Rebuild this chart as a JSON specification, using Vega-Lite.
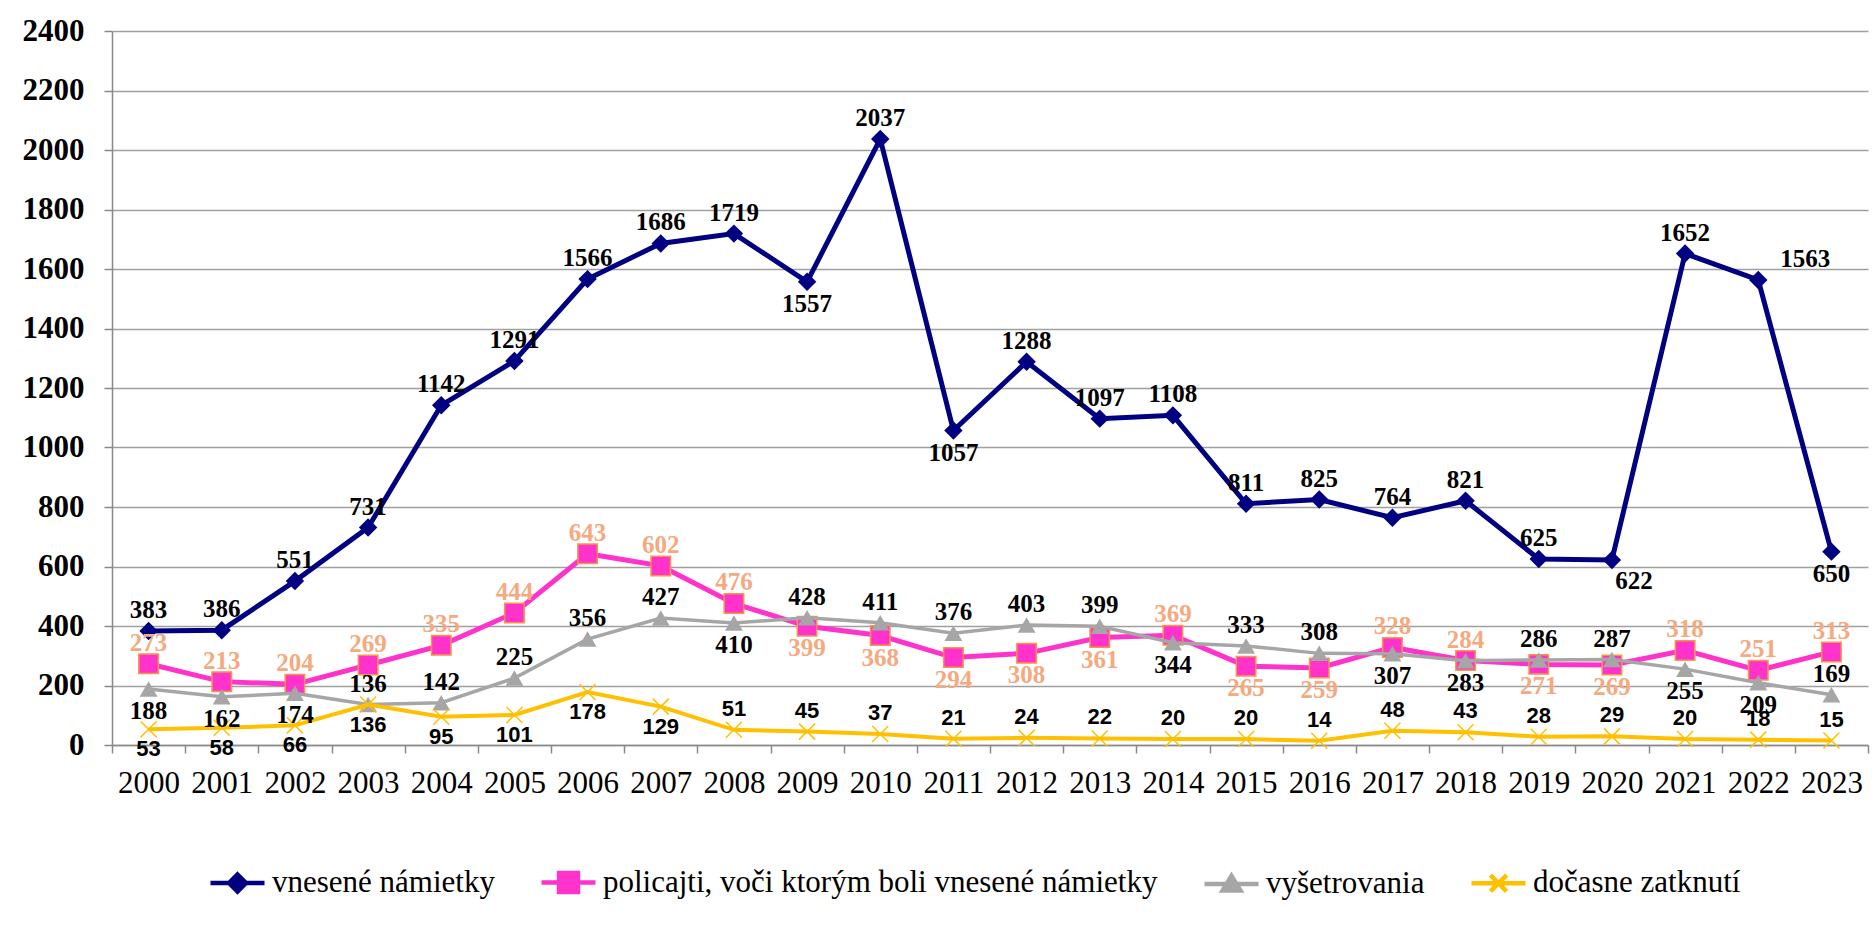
{
  "$schema": "https://vega.github.io/schema/vega-lite/v6.json",
  "width": 1756,
  "height": 714,
  "autosize": {"type": "none"},
  "padding": {"left": 112, "top": 31, "right": 8, "bottom": 184},
  "background": "white",
  "config": {"view": {"stroke": null}},
  "title": {
    "text": "Graf 1: Súhrn vybraných údajov o kriminalite príslušníkov polície v rokoch 2000 – 2023",
    "anchor": "start", "frame": "group", "dx": -112, "offset": 8, "baseline": "alphabetic",
    "font": "Liberation Serif", "fontSize": 22, "fontWeight": "bold", "color": "black"
  },
  "data": {"values": [
    {"year":"2000","series":"vnesené námietky","value":383},
    {"year":"2001","series":"vnesené námietky","value":386},
    {"year":"2002","series":"vnesené námietky","value":551},
    {"year":"2003","series":"vnesené námietky","value":731},
    {"year":"2004","series":"vnesené námietky","value":1142},
    {"year":"2005","series":"vnesené námietky","value":1291},
    {"year":"2006","series":"vnesené námietky","value":1566},
    {"year":"2007","series":"vnesené námietky","value":1686},
    {"year":"2008","series":"vnesené námietky","value":1719},
    {"year":"2009","series":"vnesené námietky","value":1557},
    {"year":"2010","series":"vnesené námietky","value":2037},
    {"year":"2011","series":"vnesené námietky","value":1057},
    {"year":"2012","series":"vnesené námietky","value":1288},
    {"year":"2013","series":"vnesené námietky","value":1097},
    {"year":"2014","series":"vnesené námietky","value":1108},
    {"year":"2015","series":"vnesené námietky","value":811},
    {"year":"2016","series":"vnesené námietky","value":825},
    {"year":"2017","series":"vnesené námietky","value":764},
    {"year":"2018","series":"vnesené námietky","value":821},
    {"year":"2019","series":"vnesené námietky","value":625},
    {"year":"2020","series":"vnesené námietky","value":622},
    {"year":"2021","series":"vnesené námietky","value":1652},
    {"year":"2022","series":"vnesené námietky","value":1563},
    {"year":"2023","series":"vnesené námietky","value":650},
    {"year":"2000","series":"policajti, voči ktorým boli vnesené námietky","value":273},
    {"year":"2001","series":"policajti, voči ktorým boli vnesené námietky","value":213},
    {"year":"2002","series":"policajti, voči ktorým boli vnesené námietky","value":204},
    {"year":"2003","series":"policajti, voči ktorým boli vnesené námietky","value":269},
    {"year":"2004","series":"policajti, voči ktorým boli vnesené námietky","value":335},
    {"year":"2005","series":"policajti, voči ktorým boli vnesené námietky","value":444},
    {"year":"2006","series":"policajti, voči ktorým boli vnesené námietky","value":643},
    {"year":"2007","series":"policajti, voči ktorým boli vnesené námietky","value":602},
    {"year":"2008","series":"policajti, voči ktorým boli vnesené námietky","value":476},
    {"year":"2009","series":"policajti, voči ktorým boli vnesené námietky","value":399},
    {"year":"2010","series":"policajti, voči ktorým boli vnesené námietky","value":368},
    {"year":"2011","series":"policajti, voči ktorým boli vnesené námietky","value":294},
    {"year":"2012","series":"policajti, voči ktorým boli vnesené námietky","value":308},
    {"year":"2013","series":"policajti, voči ktorým boli vnesené námietky","value":361},
    {"year":"2014","series":"policajti, voči ktorým boli vnesené námietky","value":369},
    {"year":"2015","series":"policajti, voči ktorým boli vnesené námietky","value":265},
    {"year":"2016","series":"policajti, voči ktorým boli vnesené námietky","value":259},
    {"year":"2017","series":"policajti, voči ktorým boli vnesené námietky","value":328},
    {"year":"2018","series":"policajti, voči ktorým boli vnesené námietky","value":284},
    {"year":"2019","series":"policajti, voči ktorým boli vnesené námietky","value":271},
    {"year":"2020","series":"policajti, voči ktorým boli vnesené námietky","value":269},
    {"year":"2021","series":"policajti, voči ktorým boli vnesené námietky","value":318},
    {"year":"2022","series":"policajti, voči ktorým boli vnesené námietky","value":251},
    {"year":"2023","series":"policajti, voči ktorým boli vnesené námietky","value":313},
    {"year":"2000","series":"vyšetrovania","value":188},
    {"year":"2001","series":"vyšetrovania","value":162},
    {"year":"2002","series":"vyšetrovania","value":174},
    {"year":"2003","series":"vyšetrovania","value":136},
    {"year":"2004","series":"vyšetrovania","value":142},
    {"year":"2005","series":"vyšetrovania","value":225},
    {"year":"2006","series":"vyšetrovania","value":356},
    {"year":"2007","series":"vyšetrovania","value":427},
    {"year":"2008","series":"vyšetrovania","value":410},
    {"year":"2009","series":"vyšetrovania","value":428},
    {"year":"2010","series":"vyšetrovania","value":411},
    {"year":"2011","series":"vyšetrovania","value":376},
    {"year":"2012","series":"vyšetrovania","value":403},
    {"year":"2013","series":"vyšetrovania","value":399},
    {"year":"2014","series":"vyšetrovania","value":344},
    {"year":"2015","series":"vyšetrovania","value":333},
    {"year":"2016","series":"vyšetrovania","value":308},
    {"year":"2017","series":"vyšetrovania","value":307},
    {"year":"2018","series":"vyšetrovania","value":283},
    {"year":"2019","series":"vyšetrovania","value":286},
    {"year":"2020","series":"vyšetrovania","value":287},
    {"year":"2021","series":"vyšetrovania","value":255},
    {"year":"2022","series":"vyšetrovania","value":209},
    {"year":"2023","series":"vyšetrovania","value":169},
    {"year":"2000","series":"dočasne zatknutí","value":53},
    {"year":"2001","series":"dočasne zatknutí","value":58},
    {"year":"2002","series":"dočasne zatknutí","value":66},
    {"year":"2003","series":"dočasne zatknutí","value":136},
    {"year":"2004","series":"dočasne zatknutí","value":95},
    {"year":"2005","series":"dočasne zatknutí","value":101},
    {"year":"2006","series":"dočasne zatknutí","value":178},
    {"year":"2007","series":"dočasne zatknutí","value":129},
    {"year":"2008","series":"dočasne zatknutí","value":51},
    {"year":"2009","series":"dočasne zatknutí","value":45},
    {"year":"2010","series":"dočasne zatknutí","value":37},
    {"year":"2011","series":"dočasne zatknutí","value":21},
    {"year":"2012","series":"dočasne zatknutí","value":24},
    {"year":"2013","series":"dočasne zatknutí","value":22},
    {"year":"2014","series":"dočasne zatknutí","value":20},
    {"year":"2015","series":"dočasne zatknutí","value":20},
    {"year":"2016","series":"dočasne zatknutí","value":14},
    {"year":"2017","series":"dočasne zatknutí","value":48},
    {"year":"2018","series":"dočasne zatknutí","value":43},
    {"year":"2019","series":"dočasne zatknutí","value":28},
    {"year":"2020","series":"dočasne zatknutí","value":29},
    {"year":"2021","series":"dočasne zatknutí","value":20},
    {"year":"2022","series":"dočasne zatknutí","value":18},
    {"year":"2023","series":"dočasne zatknutí","value":15}
  ]},
  "encoding": {
    "x": {
      "field": "year", "type": "ordinal",
      "scale": {"type": "band", "paddingInner": 0, "paddingOuter": 0},
      "axis": {
        "title": null, "tickBand": "extent", "labelAngle": 0,
        "labelFont": "Liberation Serif", "labelFontSize": 31, "labelFontWeight": "normal", "labelColor": "black",
        "labelPadding": 15, "tickSize": 8, "tickColor": "#898989", "tickWidth": 1.5,
        "domainColor": "#898989", "domainWidth": 1.5, "grid": false
      }
    },
    "y": {
      "field": "value", "type": "quantitative",
      "scale": {"domain": [0, 2400], "nice": false},
      "axis": {
        "title": null, "values": [0,200,400,600,800,1000,1200,1400,1600,1800,2000,2200,2400], "format": "d",
        "labelFont": "Liberation Serif", "labelFontSize": 31, "labelFontWeight": "bold", "labelColor": "black",
        "labelPadding": 20, "tickSize": 8, "tickColor": "#898989", "tickWidth": 1.5,
        "domainColor": "#898989", "domainWidth": 1.5,
        "grid": true, "gridColor": "#A0A0A0", "gridWidth": 1.5
      }
    }
  },
  "layer": [
    {"transform": [{"filter": {"field": "series", "equal": "vnesené námietky"}}],
     "mark": {"type": "line", "color": "#000080", "strokeWidth": 5}},
    {"transform": [{"filter": {"field": "series", "equal": "vnesené námietky"}}],
     "mark": {"type": "point", "shape": "diamond", "filled": true, "color": "#000080", "size": 340, "opacity": 1}},
    {"transform": [{"filter": {"field": "series", "equal": "policajti, voči ktorým boli vnesené námietky"}}],
     "mark": {"type": "line", "color": "#FF33CC", "strokeWidth": 5}},
    {"transform": [{"filter": {"field": "series", "equal": "policajti, voči ktorým boli vnesené námietky"}}],
     "mark": {"type": "point", "shape": "square", "filled": true, "fill": "#FF33CC", "stroke": "#F79646", "strokeWidth": 1.5, "size": 380, "opacity": 1}},
    {"transform": [{"filter": {"field": "series", "equal": "vyšetrovania"}}],
     "mark": {"type": "line", "color": "#A6A6A6", "strokeWidth": 3.5}},
    {"transform": [{"filter": {"field": "series", "equal": "vyšetrovania"}}],
     "mark": {"type": "point", "shape": "triangle-up", "filled": true, "color": "#A6A6A6", "size": 320, "opacity": 1}},
    {"transform": [{"filter": {"field": "series", "equal": "dočasne zatknutí"}}],
     "mark": {"type": "line", "color": "#FFC000", "strokeWidth": 4}},
    {"transform": [{"filter": {"field": "series", "equal": "dočasne zatknutí"}}],
     "mark": {"type": "point", "shape": "M-1,-1L1,1M-1,1L1,-1", "filled": false, "color": "#FFC000", "strokeWidth": 1.5, "size": 256, "opacity": 1}},

    {"transform": [{"filter": {"field": "series", "equal": "vnesené námietky"}},
                   {"filter": {"field": "year", "oneOf": ["2000","2001","2002","2003","2004","2005","2006","2007","2008","2010","2012","2013","2014","2015","2016","2017","2018","2019","2021"]}}],
     "mark": {"type": "text", "dy": -21, "baseline": "middle", "font": "Liberation Serif", "fontSize": 25, "fontWeight": "bold", "color": "black"},
     "encoding": {"text": {"field": "value", "type": "quantitative"}}},
    {"transform": [{"filter": {"field": "series", "equal": "vnesené námietky"}},
                   {"filter": {"field": "year", "oneOf": ["2009","2011","2023"]}}],
     "mark": {"type": "text", "dy": 22, "baseline": "middle", "font": "Liberation Serif", "fontSize": 25, "fontWeight": "bold", "color": "black"},
     "encoding": {"text": {"field": "value", "type": "quantitative"}}},
    {"transform": [{"filter": {"field": "series", "equal": "vnesené námietky"}},
                   {"filter": {"field": "year", "oneOf": ["2020"]}}],
     "mark": {"type": "text", "dx": 22, "dy": 21, "baseline": "middle", "font": "Liberation Serif", "fontSize": 25, "fontWeight": "bold", "color": "black"},
     "encoding": {"text": {"field": "value", "type": "quantitative"}}},
    {"transform": [{"filter": {"field": "series", "equal": "vnesené námietky"}},
                   {"filter": {"field": "year", "oneOf": ["2022"]}}],
     "mark": {"type": "text", "dx": 47, "dy": -21, "baseline": "middle", "font": "Liberation Serif", "fontSize": 25, "fontWeight": "bold", "color": "black"},
     "encoding": {"text": {"field": "value", "type": "quantitative"}}},

    {"transform": [{"filter": {"field": "series", "equal": "policajti, voči ktorým boli vnesené námietky"}},
                   {"filter": {"field": "year", "oneOf": ["2000","2001","2002","2003","2004","2005","2006","2007","2008","2014","2017","2018","2021","2022","2023"]}}],
     "mark": {"type": "text", "dy": -21, "baseline": "middle", "font": "Liberation Serif", "fontSize": 25, "fontWeight": "bold", "color": "#F5A97F"},
     "encoding": {"text": {"field": "value", "type": "quantitative"}}},
    {"transform": [{"filter": {"field": "series", "equal": "policajti, voči ktorým boli vnesené námietky"}},
                   {"filter": {"field": "year", "oneOf": ["2009","2010","2011","2012","2013","2015","2016","2019","2020"]}}],
     "mark": {"type": "text", "dy": 22, "baseline": "middle", "font": "Liberation Serif", "fontSize": 25, "fontWeight": "bold", "color": "#F5A97F"},
     "encoding": {"text": {"field": "value", "type": "quantitative"}}},

    {"transform": [{"filter": {"field": "series", "equal": "vyšetrovania"}},
                   {"filter": {"field": "year", "oneOf": ["2003","2004","2005","2006","2007","2009","2010","2011","2012","2013","2015","2016","2019","2020","2023"]}}],
     "mark": {"type": "text", "dy": -21, "baseline": "middle", "font": "Liberation Serif", "fontSize": 25, "fontWeight": "bold", "color": "black"},
     "encoding": {"text": {"field": "value", "type": "quantitative"}}},
    {"transform": [{"filter": {"field": "series", "equal": "vyšetrovania"}},
                   {"filter": {"field": "year", "oneOf": ["2000","2001","2002","2008","2014","2017","2018","2021","2022"]}}],
     "mark": {"type": "text", "dy": 22, "baseline": "middle", "font": "Liberation Serif", "fontSize": 25, "fontWeight": "bold", "color": "black"},
     "encoding": {"text": {"field": "value", "type": "quantitative"}}},

    {"transform": [{"filter": {"field": "series", "equal": "dočasne zatknutí"}},
                   {"filter": {"field": "year", "oneOf": ["2008","2009","2010","2011","2012","2013","2014","2015","2016","2017","2018","2019","2020","2021","2022","2023"]}}],
     "mark": {"type": "text", "dy": -21, "baseline": "middle", "font": "Liberation Sans", "fontSize": 22, "fontWeight": "bold", "color": "black"},
     "encoding": {"text": {"field": "value", "type": "quantitative"}}},
    {"transform": [{"filter": {"field": "series", "equal": "dočasne zatknutí"}},
                   {"filter": {"field": "year", "oneOf": ["2000","2001","2002","2003","2004","2005","2006","2007"]}}],
     "mark": {"type": "text", "dy": 20, "baseline": "middle", "font": "Liberation Sans", "fontSize": 22, "fontWeight": "bold", "color": "black"},
     "encoding": {"text": {"field": "value", "type": "quantitative"}}},

    {"transform": [{"filter": "datum.value < 0"}],
     "mark": {"type": "point", "filled": true, "strokeWidth": 4.5, "opacity": 1},
     "encoding": {
       "shape": {"field": "series", "type": "nominal",
         "scale": {"domain": ["vnesené námietky","policajti, voči ktorým boli vnesené námietky","vyšetrovania","dočasne zatknutí"],
                   "range": ["M-1,0L1,0M0,-0.315L0.315,0L0,0.315L-0.315,0Z",
                             "M-1,0L1,0M-0.35,-0.35L0.35,-0.35L0.35,0.35L-0.35,0.35Z",
                             "M-1,0L1,0M0,-0.3L0.33,0.24L-0.33,0.24Z",
                             "M-1,0L1,0M-0.3,-0.3L0.3,0.3M-0.3,0.3L0.3,-0.3"]},
         "legend": {"title": null, "orient": "none", "legendX": 96, "legendY": 822, "direction": "horizontal", "columns": 4,
                    "symbolSize": 2916, "symbolStrokeWidth": 4.5, "labelFont": "Liberation Serif", "labelFontSize": 31,
                    "labelColor": "black", "labelOffset": 5, "columnPadding": 37, "padding": 0, "labelLimit": 1000, "symbolOpacity": 1}},
       "fill": {"field": "series", "type": "nominal",
         "scale": {"domain": ["vnesené námietky","policajti, voči ktorým boli vnesené námietky","vyšetrovania","dočasne zatknutí"],
                   "range": ["#000080","#FF33CC","#A6A6A6","#FFC000"]},
         "legend": {"title": null, "orient": "none", "legendX": 96, "legendY": 822, "direction": "horizontal", "columns": 4,
                    "symbolSize": 2916, "symbolStrokeWidth": 4.5, "labelFont": "Liberation Serif", "labelFontSize": 31,
                    "labelColor": "black", "labelOffset": 5, "columnPadding": 37, "padding": 0, "labelLimit": 1000, "symbolOpacity": 1}},
       "stroke": {"field": "series", "type": "nominal",
         "scale": {"domain": ["vnesené námietky","policajti, voči ktorým boli vnesené námietky","vyšetrovania","dočasne zatknutí"],
                   "range": ["#000080","#FF33CC","#A6A6A6","#FFC000"]},
         "legend": {"title": null, "orient": "none", "legendX": 96, "legendY": 822, "direction": "horizontal", "columns": 4,
                    "symbolSize": 2916, "symbolStrokeWidth": 4.5, "labelFont": "Liberation Serif", "labelFontSize": 31,
                    "labelColor": "black", "labelOffset": 5, "columnPadding": 37, "padding": 0, "labelLimit": 1000, "symbolOpacity": 1}}
     }}
  ]
}
